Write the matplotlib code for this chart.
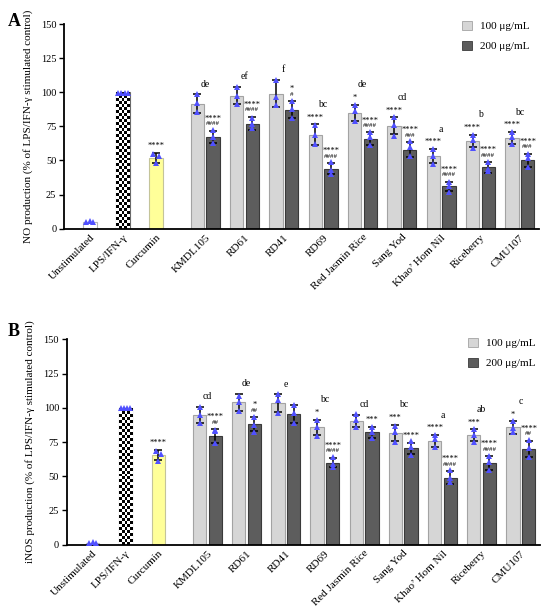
import numpy as np
import matplotlib
matplotlib.use("Agg")
import matplotlib.pyplot as plt
from matplotlib.patches import Patch

plt.rcParams['font.family'] = ['Liberation Serif', 'DejaVu Serif']

# ---------------- data ----------------
controls = ['Unstimulated', 'LPS/IFN-γ', 'Curcumin']
varieties = ['KMDL105', 'RD61', 'RD41', 'RD69', 'Red Jasmin Rice', 'Sang Yod',
             'Khao’ Hom Nil', 'Riceberry', 'CMU107']
legend_labels = ['100 μg/mL', '200 μg/mL']
yticks = [0, 25, 50, 75, 100, 125, 150]

# Panel A: NO production
no_ctrl_mean = [5.0, 100.0, 52.0]
no_ctrl_sd = [0.6, 0.3, 3.8]
no_ctrl_reps = [[4.8, 5.6, 5.2], [99.5, 99.5, 99.5, 99.5], [55.0, 53.5, 48.5]]
no_100_mean = [91.7, 97.6, 99.0, 69.0, 85.0, 75.5, 53.5, 64.5, 66.5]
no_100_sd = [6.8, 6.3, 9.8, 7.5, 6.0, 6.0, 5.0, 4.5, 4.5]
no_100_reps = [[99.0, 92.0, 85.5], [104.0, 97.5, 91.5], [108.8, 96.5, 91.0],
               [76.0, 69.0, 62.0], [91.0, 86.0, 79.0], [82.0, 76.0, 68.0],
               [58.5, 53.0, 47.5], [69.0, 65.0, 59.5], [71.0, 67.5, 62.0]]
no_200_mean = [67.2, 77.0, 87.3, 44.0, 66.0, 58.0, 31.0, 45.0, 50.0]
no_200_sd = [4.6, 5.0, 6.0, 4.0, 4.5, 5.5, 3.5, 4.0, 5.0]
no_200_reps = [[72.0, 67.5, 63.0], [81.0, 77.0, 74.0], [93.5, 87.5, 81.0],
               [49.0, 43.0, 40.0], [70.5, 67.5, 61.0], [64.0, 60.0, 53.0],
               [34.5, 31.0, 27.0], [49.0, 44.0, 42.5], [55.0, 51.5, 45.0]]
no_ctrl_stars = ['', '', '****']
no_letters = ['de', 'ef', 'f', 'bc', 'de', 'cd', 'a', 'b', 'bc']
no_100_stars = ['', '', '', '****', '*', '****', '****', '****', '****']
no_200_stars = ['****', '****', '*', '****', '****', '****', '****', '****', '****']
no_200_hash = ['####', '####', '#', '####', '####', '###', '####', '####', '###']

# Panel B: iNOS production
inos_ctrl_mean = [1.5, 100.0, 65.5]
inos_ctrl_sd = [0.4, 0.3, 4.0]
inos_ctrl_reps = [[1.4, 1.9, 1.6], [99.5, 99.5, 99.5, 99.5], [68.7, 66.2, 61.3]]
inos_100_mean = [94.7, 104.0, 103.3, 85.7, 90.5, 81.6, 75.7, 80.0, 85.7]
inos_100_sd = [6.0, 6.0, 6.5, 5.5, 4.5, 6.0, 4.5, 4.5, 4.5]
inos_100_reps = [[100.8, 94.7, 88.7], [108.5, 104.5, 97.5], [110.0, 105.5, 96.0],
                 [91.0, 85.7, 79.4], [95.5, 91.0, 86.3], [86.7, 82.6, 75.2],
                 [80.1, 77.0, 71.1], [84.3, 80.1, 75.2], [90.5, 85.0, 82.5]]
inos_200_mean = [79.4, 88.2, 95.5, 60.0, 82.0, 70.6, 49.0, 59.7, 70.0]
inos_200_sd = [5.0, 5.0, 6.5, 3.5, 4.0, 4.0, 4.5, 5.0, 6.0]
inos_200_reps = [[84.0, 83.0, 74.0], [93.5, 87.5, 82.5], [102.0, 96.0, 89.0],
                 [64.3, 59.0, 56.5], [86.2, 82.6, 77.7], [75.7, 71.6, 65.5],
                 [54.6, 48.5, 46.0], [64.8, 60.6, 54.6], [76.5, 70.4, 64.3]]
inos_ctrl_stars = ['', '', '****']
inos_letters = ['cd', 'de', 'e', 'bc', 'cd', 'bc', 'a', 'ab', 'c']
inos_100_stars = ['', '', '', '*', '', '***', '****', '***', '*']
inos_200_stars = ['****', '*', '', '****', '***', '****', '****', '****', '****']
inos_200_hash = ['##', '##', '', '####', '', '', '####', '####', '##']

# ---------------- style ----------------
LIGHT, LIGHT_EDGE = '#d6d6d6', '#a3a3a3'
DARK, DARK_EDGE = '#5d5d5d', '#3a3a3a'
TRI = '#5050ff'

fig = plt.figure(figsize=(5.5, 6.15), dpi=100)
W, H = 550.0, 615.0
axA = fig.add_axes([64 / W, 1 - 228.7 / H, (539 - 64) / W, (228.7 - 24) / H])
axB = fig.add_axes([66.7 / W, 1 - 544.7 / H, (540 - 66.7) / W, (544.7 - 339.3) / H])


def stack_text(ax, x, top, stars, hashes):
    """place hash/star marks above an error bar; return visual centre of the top mark"""
    if hashes:
        ax.text(x, top + 5.0, hashes, ha='center', va='center', fontsize=5, zorder=5)
        if stars:
            ax.text(x, top + 8.8, stars, ha='center', va='center', fontsize=6, zorder=5)
            return top + 10.0
        return top + 5.5
    if stars:
        ax.text(x, top + 4.8, stars, ha='center', va='center', fontsize=6, zorder=5)
        return top + 6.0
    return None


def draw_panel(ax, ylabel, c_mean, c_sd, c_reps, m1, s1, r1, m2, s2, r2,
               c_stars, letters, st1, st2, hs2, legend_xy):
    x_ctrl = np.array([0.0, 0.84, 1.68])
    x_grp = 2.93 + np.arange(len(varieties))
    w, off = 0.34, 0.2

    bars_c = ax.bar(x_ctrl, c_mean, width=w, color=['white', 'white', '#ffff99'],
                    edgecolor=['#b5b5b5', '#6a6a6a', '#c4c49a'], linewidth=0.8, zorder=2)
    # checkerboard texture for LPS/IFN-γ bar
    lps = bars_c[1]
    ny, nx = 46, 5
    checker = np.add.outer(np.arange(ny), np.arange(nx)) % 2
    im = ax.imshow(checker, cmap='gray', interpolation='nearest', aspect='auto',
                   extent=(x_ctrl[1] - w / 2, x_ctrl[1] + w / 2, 0, c_mean[1]), zorder=2.1)
    im.set_clip_path(lps)

    ax.bar(x_grp - off, m1, width=w, color=LIGHT, edgecolor=LIGHT_EDGE, linewidth=0.8,
           zorder=2, label=legend_labels[0])
    ax.bar(x_grp + off, m2, width=w, color=DARK, edgecolor=DARK_EDGE, linewidth=0.8,
           zorder=2, label=legend_labels[1])

    ek = dict(fmt='none', ecolor='black', elinewidth=1.1, capsize=2.6, capthick=1.1, zorder=3)
    ax.errorbar(x_ctrl[2:], c_mean[2:], yerr=c_sd[2:], **ek)
    ax.errorbar(x_grp - off, m1, yerr=s1, **ek)
    ax.errorbar(x_grp + off, m2, yerr=s2, **ek)

    ctrl_dx = [[-0.09, 0.0, 0.09], [-0.12, -0.04, 0.04, 0.12], [-0.07, 0.07, 0.0]]
    mk = dict(color=TRI, ms=4.5, mew=0, zorder=4, ls='none', marker='^')
    for xc, reps, dx in zip(x_ctrl, c_reps, ctrl_dx):
        ax.plot(xc + np.array(dx), reps, **mk)
    for i in range(len(varieties)):
        ax.plot(np.full(3, x_grp[i] - off), r1[i], **mk)
        ax.plot(np.full(3, x_grp[i] + off), r2[i], **mk)

    # annotations
    stack_text(ax, x_ctrl[2], c_mean[2] + c_sd[2], c_stars[2], '')
    for i in range(len(varieties)):
        top1 = m1[i] + s1[i]
        t1 = stack_text(ax, x_grp[i] - off, top1, st1[i], '')
        stack_text(ax, x_grp[i] + off, m2[i] + s2[i], st2[i], hs2[i])
        ly = top1 + 7.5 if t1 is None else t1 + 8.5
        ax.text(x_grp[i], ly, letters[i], ha='center', va='center', fontsize=7, zorder=5)

    ax.set_xlim(-0.66, 11.42)
    ax.set_ylim(0, 150)
    ax.set_yticks(yticks)
    ax.set_xticks(np.concatenate([x_ctrl, x_grp]))
    ax.set_xticklabels(controls + varieties, rotation=45, ha='right',
                       rotation_mode='anchor', fontsize=8)
    ax.tick_params(axis='x', length=0, pad=3)
    ax.tick_params(axis='y', length=3.5, width=1.0, labelsize=7.5, pad=2)
    for s in ['top', 'right']:
        ax.spines[s].set_visible(False)
    for s in ['left', 'bottom']:
        ax.spines[s].set_linewidth(1.3)
    ax.set_ylabel(ylabel, fontsize=8, labelpad=6)

    handles = [Patch(facecolor=LIGHT, edgecolor=LIGHT_EDGE, linewidth=0.6),
               Patch(facecolor=DARK, edgecolor=DARK_EDGE, linewidth=0.6)]
    ax.legend(handles, legend_labels, loc='upper left', bbox_to_anchor=legend_xy,
              bbox_transform=fig.transFigure, frameon=False, fontsize=8,
              handlelength=0.9, handleheight=0.9, handletextpad=0.7,
              labelspacing=0.85, borderpad=0, borderaxespad=0)


draw_panel(axA, 'NO production (% of LPS/IFN-γ stimulated control)',
           no_ctrl_mean, no_ctrl_sd, no_ctrl_reps,
           no_100_mean, no_100_sd, no_100_reps,
           no_200_mean, no_200_sd, no_200_reps,
           no_ctrl_stars, no_letters, no_100_stars, no_200_stars, no_200_hash,
           (462 / W, 1 - 21 / H))
draw_panel(axB, 'iNOS production (% of LPS/IFN-γ stimulated control)',
           inos_ctrl_mean, inos_ctrl_sd, inos_ctrl_reps,
           inos_100_mean, inos_100_sd, inos_100_reps,
           inos_200_mean, inos_200_sd, inos_200_reps,
           inos_ctrl_stars, inos_letters, inos_100_stars, inos_200_stars, inos_200_hash,
           (468 / W, 1 - 338 / H))

fig.text(14 / W, 1 - 22 / H, 'A', fontsize=13, fontweight='bold', ha='center', va='center')
fig.text(14 / W, 1 - 331 / H, 'B', fontsize=13, fontweight='bold', ha='center', va='center')

fig.savefig('out.png', dpi=100)
